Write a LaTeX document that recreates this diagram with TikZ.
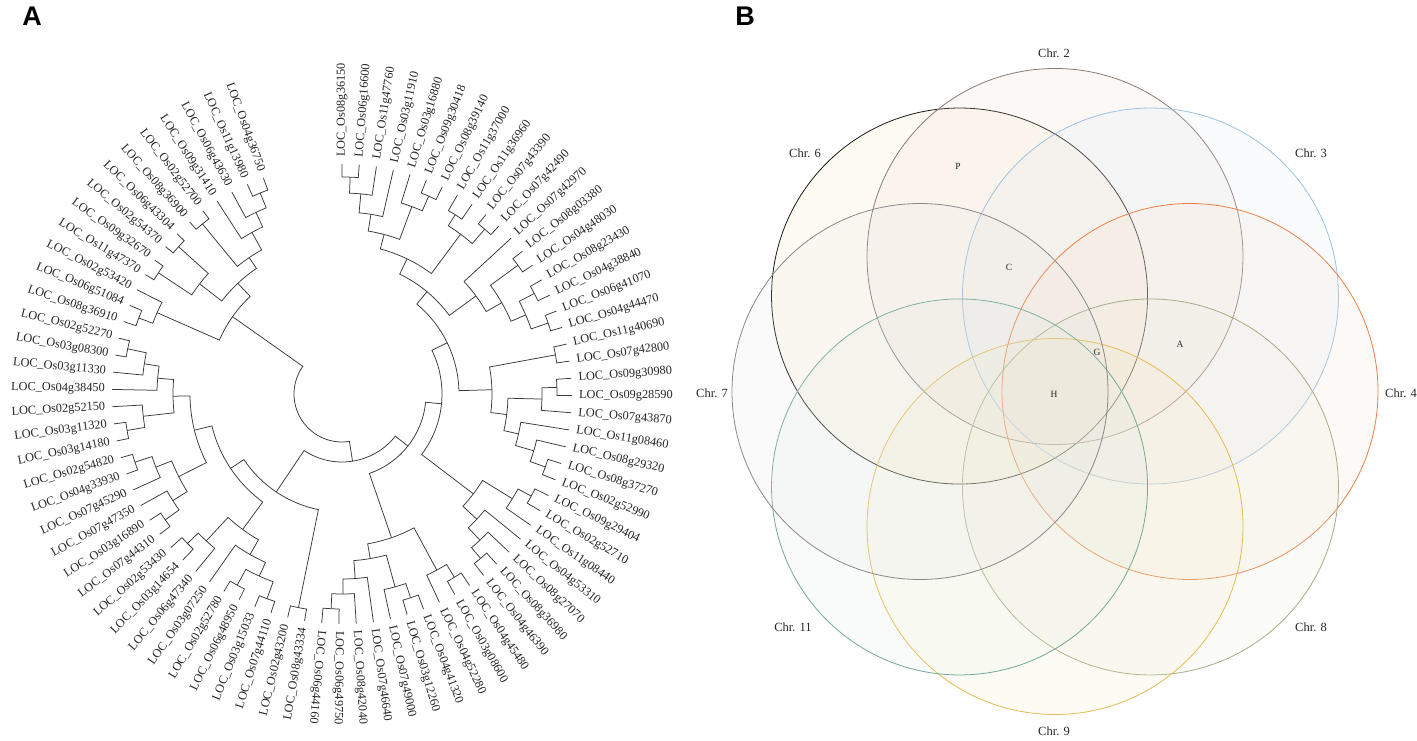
\documentclass[tikz,border=0pt]{standalone}
\usepackage{fontspec}
\setmainfont{Liberation Serif}
\newfontfamily\panelfont{Liberation Sans}
\definecolor{o2}{HTML}{8A7A78}\definecolor{f2}{HTML}{E8D2C8}
\definecolor{o3}{HTML}{9FC2E0}\definecolor{f3}{HTML}{DCE8F4}
\definecolor{o4}{HTML}{E8804A}\definecolor{f4}{HTML}{F8DCC4}
\definecolor{o6}{HTML}{1A1A1A}\definecolor{f6}{HTML}{FAE6B4}
\definecolor{o7}{HTML}{8C8888}\definecolor{f7}{HTML}{E2E2E2}
\definecolor{o8}{HTML}{A9AB8A}\definecolor{f8}{HTML}{E8E8D4}
\definecolor{o9}{HTML}{E4BB55}\definecolor{f9}{HTML}{F8EBB8}
\definecolor{o11}{HTML}{74A898}\definecolor{f11}{HTML}{DCEAE4}
\makeatletter
\newcommand\Lf[2]{%
  \pgfmathsetmacro\tmpang{90-(#1-1)*4.3038}%
  \expandafter\xdef\csname tang@#1\endcsname{\tmpang}%
  \expandafter\xdef\csname trad@#1\endcsname{230}%
  \ifnum#1<45\relax
    \node[leaflab, anchor=west, rotate=\tmpang] (L#1) at (\tmpang:237pt) {#2};%
  \else
    \pgfmathsetmacro\tmprot{\tmpang+180}%
    \node[leaflab, anchor=east, rotate=\tmprot] (L#1) at (\tmpang:237pt) {#2};%
  \fi
}
\newcommand\Nd[4]{%
  \edef\tA{\csname tang@#3\endcsname}%
  \edef\tB{\csname tang@#4\endcsname}%
  \edef\rA{\csname trad@#3\endcsname}%
  \edef\rB{\csname trad@#4\endcsname}%
  \pgfmathsetmacro\tM{(\tA+\tB)/2}%
  \draw[branch] (\tA:\rA pt) -- (\tA:#2pt) arc[start angle=\tA, end angle=\tB, radius=#2pt] -- (\tB:\rB pt);%
  \expandafter\xdef\csname tang@#1\endcsname{\tM}%
  \expandafter\xdef\csname trad@#1\endcsname{#2}%
}
\makeatother
\begin{document}
\begin{tikzpicture}[x=1pt,y=1pt,
  branch/.style={draw=black!78, line width=0.75pt},
  leaflab/.style={font=\fontsize{12.3}{13}\selectfont, inner sep=0pt, text=black!85},
  vlab/.style={font=\fontsize{12.5}{13}\selectfont, text=black!85, inner sep=0pt},
  rlab/.style={font=\fontsize{9.5}{10}\selectfont, text=black!85, inner sep=0pt},
  venn/.style={line width=0.8pt, fill opacity=0.15},
  panel/.style={font=\panelfont\bfseries\fontsize{27}{28}\selectfont}]
\useasboundingbox (0,0) rectangle (1417,740);
\fill[white] (0,0) rectangle (1417,740);
\node[panel] (pA) at (32,724) {A};
\node[panel] (pB) at (745,724) {B};
% ---------------- tree ----------------
\begin{scope}[shift={(342,346)}]
\Lf{1}{LOC\_Os08g36150}\Lf{2}{LOC\_Os06g16600}\Lf{3}{LOC\_Os11g47760}\Lf{4}{LOC\_Os03g11910}
\Lf{5}{LOC\_Os03g16880}\Lf{6}{LOC\_Os09g30418}\Lf{7}{LOC\_Os08g39140}\Lf{8}{LOC\_Os11g37000}
\Lf{9}{LOC\_Os11g36960}\Lf{10}{LOC\_Os07g43390}\Lf{11}{LOC\_Os07g42490}\Lf{12}{LOC\_Os07g42970}
\Lf{13}{LOC\_Os08g03380}\Lf{14}{LOC\_Os04g48030}\Lf{15}{LOC\_Os08g23430}\Lf{16}{LOC\_Os04g38840}
\Lf{17}{LOC\_Os06g41070}\Lf{18}{LOC\_Os04g44470}\Lf{19}{LOC\_Os11g40690}\Lf{20}{LOC\_Os07g42800}
\Lf{21}{LOC\_Os09g30980}\Lf{22}{LOC\_Os09g28590}\Lf{23}{LOC\_Os07g43870}\Lf{24}{LOC\_Os11g08460}
\Lf{25}{LOC\_Os08g29320}\Lf{26}{LOC\_Os08g37270}\Lf{27}{LOC\_Os02g52990}\Lf{28}{LOC\_Os09g29404}
\Lf{29}{LOC\_Os02g52710}\Lf{30}{LOC\_Os11g08440}\Lf{31}{LOC\_Os04g53310}\Lf{32}{LOC\_Os08g27070}
\Lf{33}{LOC\_Os08g36980}\Lf{34}{LOC\_Os04g46390}\Lf{35}{LOC\_Os04g45480}\Lf{36}{LOC\_Os03g08600}
\Lf{37}{LOC\_Os04g52280}\Lf{38}{LOC\_Os04g41320}\Lf{39}{LOC\_Os03g12260}\Lf{40}{LOC\_Os07g49000}
\Lf{41}{LOC\_Os07g46640}\Lf{42}{LOC\_Os08g42040}\Lf{43}{LOC\_Os06g49750}\Lf{44}{LOC\_Os06g44160}
\Lf{45}{LOC\_Os08g43334}\Lf{46}{LOC\_Os02g43200}\Lf{47}{LOC\_Os07g44110}\Lf{48}{LOC\_Os03g15033}
\Lf{49}{LOC\_Os06g48950}\Lf{50}{LOC\_Os02g52780}\Lf{51}{LOC\_Os03g07250}\Lf{52}{LOC\_Os06g47340}
\Lf{53}{LOC\_Os03g14654}\Lf{54}{LOC\_Os02g53430}\Lf{55}{LOC\_Os07g44310}\Lf{56}{LOC\_Os03g16890}
\Lf{57}{LOC\_Os07g47350}\Lf{58}{LOC\_Os07g45290}\Lf{59}{LOC\_Os04g33930}\Lf{60}{LOC\_Os02g54820}
\Lf{61}{LOC\_Os03g14180}\Lf{62}{LOC\_Os03g11320}\Lf{63}{LOC\_Os02g52150}\Lf{64}{LOC\_Os04g38450}
\Lf{65}{LOC\_Os03g11330}\Lf{66}{LOC\_Os03g08300}\Lf{67}{LOC\_Os02g52270}\Lf{68}{LOC\_Os08g36910}
\Lf{69}{LOC\_Os06g51084}\Lf{70}{LOC\_Os02g53420}\Lf{71}{LOC\_Os11g47370}\Lf{72}{LOC\_Os09g32670}
\Lf{73}{LOC\_Os02g54370}\Lf{74}{LOC\_Os06g43304}\Lf{75}{LOC\_Os08g36900}\Lf{76}{LOC\_Os02g52700}
\Lf{77}{LOC\_Os09g31410}\Lf{78}{LOC\_Os06g43630}\Lf{79}{LOC\_Os11g13980}\Lf{80}{LOC\_Os04g36750}
% upper right
\Nd{c12}{217}{1}{2}
\Nd{c123}{201}{c12}{3}
\Nd{c1234}{182}{c123}{4}
\Nd{c67}{216}{6}{7}
\Nd{c567}{200}{5}{c67}
\Nd{c1to7}{165}{c1234}{c567}
\Nd{c89}{212}{8}{9}
\Nd{c1011}{218}{10}{11}
\Nd{c8to11}{199}{c89}{c1011}
\Nd{c1to11}{150}{c1to7}{c8to11}
\Nd{c1314}{218}{13}{14}
\Nd{c1516}{217}{15}{16}
\Nd{c1718}{218}{17}{18}
\Nd{c15to18}{200}{c1516}{c1718}
\Nd{c13to18}{184}{c1314}{c15to18}
\Nd{c12to18}{166}{12}{c13to18}
\Nd{c1to18}{133}{c1to11}{c12to18}
% right
\Nd{c1920}{217}{19}{20}
\Nd{c2122}{215}{21}{22}
\Nd{c21to23}{200}{c2122}{23}
\Nd{c2627}{216}{26}{27}
\Nd{c25to27}{200}{25}{c2627}
\Nd{c24to27}{181}{24}{c25to27}
\Nd{c21to27}{166}{c21to23}{c24to27}
\Nd{c19to27}{150}{c1920}{c21to27}
\Nd{c1to27}{117}{c1to18}{c19to27}
% lower right
\Nd{c2829}{215}{28}{29}
\Nd{c28to30}{200}{c2829}{30}
\Nd{c3334}{215}{33}{34}
\Nd{c32to34}{201}{32}{c3334}
\Nd{c31to34}{184}{31}{c32to34}
\Nd{c28to34}{165}{c28to30}{c31to34}
\Nd{c1to34}{100}{c1to27}{c28to34}
% bottom
\Nd{c3536}{215}{35}{36}
\Nd{c35to37}{200}{c3536}{37}
\Nd{c3839}{215}{38}{39}
\Nd{c38to40}{200}{c3839}{40}
\Nd{c4344}{215}{43}{44}
\Nd{c42to44}{200}{42}{c4344}
\Nd{c41to44}{185}{41}{c42to44}
\Nd{c38to44}{167}{c38to40}{c41to44}
\Nd{c35to44}{152}{c35to37}{c38to44}
\Nd{c1to44}{84}{c1to34}{c35to44}
% lower left and left
\Nd{c4546}{218}{45}{46}
\Nd{c4748}{218}{47}{48}
\Nd{c4950}{218}{49}{50}
\Nd{c47to50}{200}{c4748}{c4950}
\Nd{c47to51}{185}{c47to50}{51}
\Nd{c5354}{215}{53}{54}
\Nd{c52to54}{200}{52}{c5354}
\Nd{c47to54}{168}{c47to51}{c52to54}
\Nd{c5556}{217}{55}{56}
\Nd{c55to57}{200}{c5556}{57}
\Nd{c5960}{218}{59}{60}
\Nd{c58to60}{200}{58}{c5960}
\Nd{c55to60}{183}{c55to57}{c58to60}
\Nd{c6162}{218}{61}{62}
\Nd{c61to63}{200}{c6162}{63}
\Nd{c6667}{219}{66}{67}
\Nd{c65to67}{200}{65}{c6667}
\Nd{c64to67}{185}{64}{c65to67}
\Nd{c61to67}{169}{c61to63}{c64to67}
\Nd{c55to67}{152}{c55to60}{c61to67}
\Nd{c47to67}{134}{c47to54}{c55to67}
\Nd{c45to67}{118}{c4546}{c47to67}
\Nd{c1to67}{68}{c1to44}{c45to67}
% upper left
\Nd{c6869}{217}{68}{69}
\Nd{c68to70}{202}{c6869}{70}
\Nd{c7172}{220}{71}{72}
\Nd{c7374}{220}{73}{74}
\Nd{c71to74}{180}{c7172}{c7374}
\Nd{c7576}{220}{75}{76}
\Nd{c7980}{217}{79}{80}
\Nd{c78to80}{201}{78}{c7980}
\Nd{c77to80}{185}{77}{c78to80}
\Nd{c75to80}{165}{c7576}{c77to80}
\Nd{c71to80}{152}{c71to74}{c75to80}
\Nd{c68to80}{134}{c68to70}{c71to80}
% root
\Nd{root}{48}{c1to67}{c68to80}
\end{scope}
% ---------------- Venn ----------------
\begin{scope}[shift={(1055,348.5)}]
\coordinate (V) at (0,0);
\path[venn, draw=o6, fill=f6] (135:135pt) circle[radius=188pt];
\path[venn, draw=o2, fill=f2] (90:135pt) circle[radius=188pt];
\path[venn, draw=o3, fill=f3] (45:135pt) circle[radius=188pt];
\path[venn, draw=o4, fill=f4] (0:135pt) circle[radius=188pt];
\path[venn, draw=o8, fill=f8] (-45:135pt) circle[radius=188pt];
\path[venn, draw=o9, fill=f9] (-90:135pt) circle[radius=188pt];
\path[venn, draw=o11, fill=f11] (-135:135pt) circle[radius=188pt];
\path[venn, draw=o7, fill=f7] (180:135pt) circle[radius=188pt];
\end{scope}
\node[vlab] (t2) at (1054,687) {Chr. 2};
\node[vlab] (t3) at (1311,587) {Chr. 3};
\node[vlab] (t4) at (1401,347) {Chr. 4};
\node[vlab] (t8) at (1311,113) {Chr. 8};
\node[vlab] (t9) at (1054,9) {Chr. 9};
\node[vlab] (t11) at (793,113) {Chr. 11};
\node[vlab] (t7) at (712,347) {Chr. 7};
\node[vlab] (t6) at (805,587) {Chr. 6};
\node[rlab] (rP) at (958,574) {P};
\node[rlab] (rC) at (1009,473) {C};
\node[rlab] (rG) at (1097,388) {G};
\node[rlab] (rA) at (1180,396) {A};
\node[rlab] (rH) at (1054,346) {H};
\end{tikzpicture}
\end{document}
